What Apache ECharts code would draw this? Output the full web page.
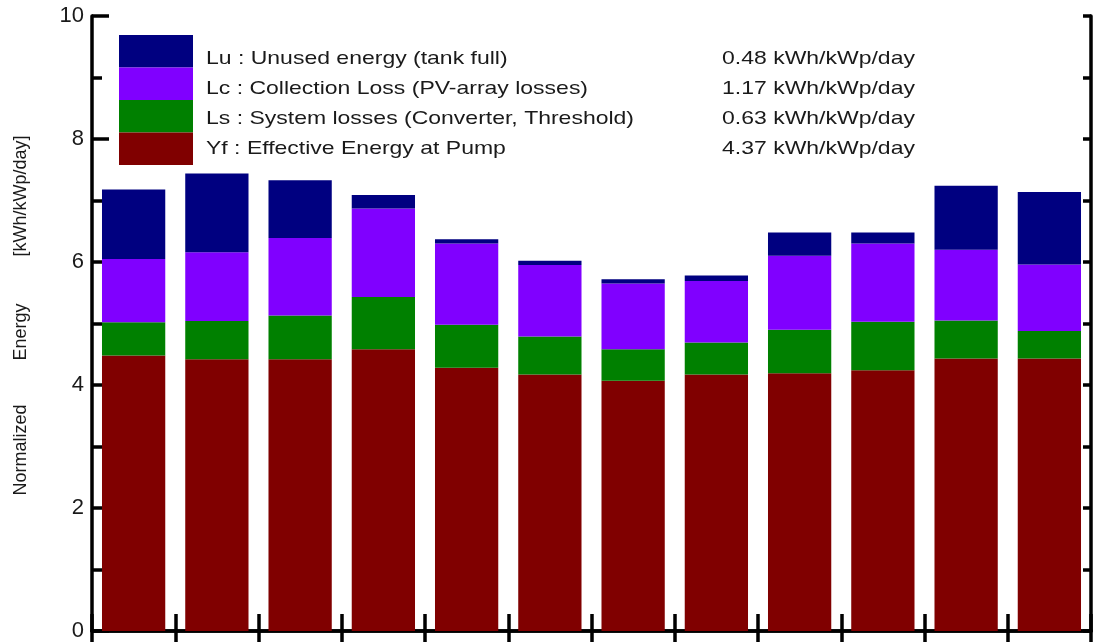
<!DOCTYPE html>
<html>
<head>
<meta charset="utf-8">
<script src="https://cdn.jsdelivr.net/npm/echarts@6/dist/echarts.min.js"></script>
<style>html,body{margin:0;padding:0;background:#fff;}#c{width:1094px;height:642px;}</style>
</head>
<body>
<div id="c"></div>
<script>
const categories = ['Jan','Feb','Mar','Apr','May','Jun','Jul','Aug','Sep','Oct','Nov','Dec'];
const yf = [4.48, 4.42, 4.42, 4.58, 4.28, 4.17, 4.07, 4.17, 4.19, 4.24, 4.43, 4.43];
const ls = [0.54, 0.62, 0.71, 0.85, 0.70, 0.62, 0.51, 0.52, 0.71, 0.79, 0.62, 0.45];
const lc = [1.03, 1.12, 1.26, 1.44, 1.32, 1.16, 1.07, 1.00, 1.20, 1.27, 1.15, 1.08];
const lu = [1.13, 1.28, 0.94, 0.22, 0.07, 0.07, 0.07, 0.09, 0.38, 0.18, 1.04, 1.18];
const seriesNames = ['Lu', 'Lc', 'Ls', 'Yf'];
const legendLabels = ['Lu : Unused energy (tank full)', 'Lc : Collection Loss (PV-array losses)', 'Ls : System losses (Converter, Threshold)', 'Yf : Effective Energy at Pump'];
const legendValues = ['0.48 kWh/kWp/day', '1.17 kWh/kWp/day', '0.63 kWh/kWp/day', '4.37 kWh/kWp/day'];
const yTickMin = 0, yTickMax = 10, yTickStep = 2;
const yNameParts = ['Normalized', 'Energy', '[kWh/kWp/day]'];

const colors = {Lu: '#000080', Lc: '#8000ff', Ls: '#008000', Yf: '#800000'};
const FONT = '"Liberation Sans", Arial, sans-serif';
const chart = echarts.init(document.getElementById('c'), null, {renderer: 'canvas'});

const axisLine = {show: true, lineStyle: {color: '#000', width: 3.5}};
const tickStyle = {color: '#000', width: 3.5};
const dataByName = {Lu: lu, Lc: lc, Ls: ls, Yf: yf};

const series = ['Yf', 'Ls', 'Lc', 'Lu'].map(n => ({
  name: n, type: 'bar', stack: 'e', data: dataByName[n],
  barWidth: '76%', itemStyle: {color: colors[n]}, emphasis: {disabled: true}
}));

const graphics = [];
const legendY = [59, 89, 119, 149];
legendLabels.forEach((t, i) => {
  graphics.push({type: 'text', x: 206, y: legendY[i], scaleX: 1.21,
    style: {text: t, font: '19px ' + FONT, fill: '#1a1a1a', textAlign: 'left', textVerticalAlign: 'middle'}});
  graphics.push({type: 'text', x: 722, y: legendY[i], scaleX: 1.21,
    style: {text: legendValues[i], font: '19px ' + FONT, fill: '#1a1a1a', textAlign: 'left', textVerticalAlign: 'middle'}});
});
const nameY = [450, 332, 196];
yNameParts.forEach((t, i) => {
  graphics.push({type: 'text', x: 21, y: nameY[i], rotation: Math.PI / 2,
    style: {text: t, font: '18px ' + FONT, fill: '#1a1a1a', textAlign: 'center', textVerticalAlign: 'middle'}});
});

chart.setOption({
  animation: false,
  backgroundColor: '#fff',
  grid: {left: 92, right: 3, top: 16, bottom: 10, containLabel: false},
  legend: {
    data: seriesNames, orient: 'vertical', left: 119, top: 35, padding: 0,
    itemWidth: 74, itemHeight: 32.5, itemGap: 0, icon: 'rect',
    formatter: () => '', textStyle: {fontSize: 1}, selectedMode: false
  },
  xAxis: [
    {type: 'category', data: categories, position: 'bottom', axisLine,
     axisTick: {show: true, inside: true, length: 17, lineStyle: tickStyle},
     axisLabel: {show: false}, splitLine: {show: false}},
    {type: 'category', data: categories, position: 'top', axisLine,
     axisTick: {show: true, inside: true, length: 17, lineStyle: tickStyle},
     axisLabel: {show: false}, splitLine: {show: false}}
  ],
  yAxis: [
    {type: 'value', min: yTickMin, max: yTickMax, interval: yTickStep, position: 'left', axisLine,
     axisTick: {show: true, inside: true, length: 17, lineStyle: tickStyle},
     minorTick: {show: true, splitNumber: 2, length: 10, lineStyle: tickStyle},
     axisLabel: {show: true, fontSize: 22, fontFamily: FONT, color: '#1a1a1a', margin: 8},
     splitLine: {show: false}},
    {type: 'value', min: yTickMin, max: yTickMax, interval: 1, position: 'right', axisLine,
     axisTick: {show: true, inside: true, length: 8, lineStyle: tickStyle},
     axisLabel: {show: false}, splitLine: {show: false}}
  ],
  series,
  graphic: graphics
});
</script>
</body>
</html>
